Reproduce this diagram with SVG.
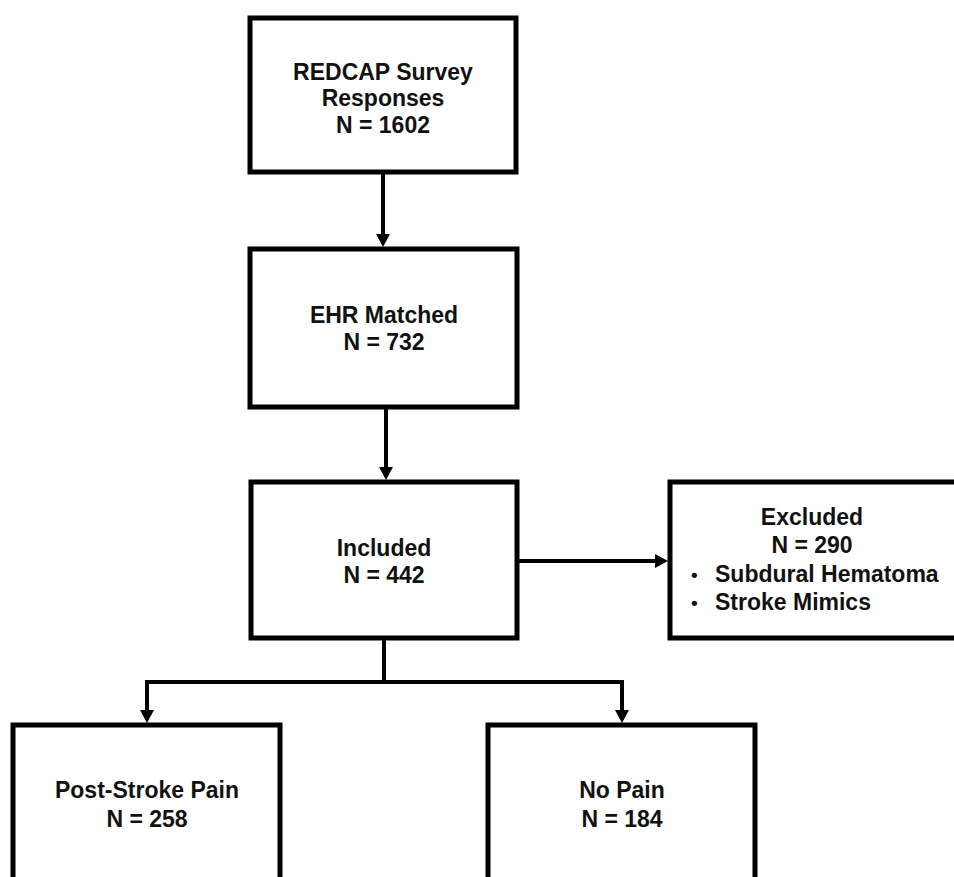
<svg xmlns="http://www.w3.org/2000/svg" width="954" height="877" viewBox="0 0 954 877">
<style>
.box{fill:#fff;stroke:#000;stroke-width:5}
.t{font-family:"Liberation Sans",Arial,sans-serif;font-weight:bold;font-size:23px;fill:#111;text-anchor:middle}
.tl{font-family:"Liberation Sans",Arial,sans-serif;font-weight:bold;font-size:23px;fill:#111}
.b{font-size:19px}
.c{fill:none;stroke:#000;stroke-width:4}
</style>
<defs>
<marker id="ah" markerUnits="userSpaceOnUse" markerWidth="14" markerHeight="14" refX="0" refY="7" orient="auto">
<path d="M0,0 L13,7 L0,14 z" fill="#000"/>
</marker>
</defs>
<rect width="954" height="877" fill="#fff"/>
<g id="connectors">
<line class="c" x1="383" y1="172" x2="383" y2="234" marker-end="url(#ah)"/>
<line class="c" x1="386" y1="407" x2="386" y2="467" marker-end="url(#ah)"/>
<line class="c" x1="517" y1="561" x2="655" y2="561" marker-end="url(#ah)"/>
<polyline class="c" points="384,638 384,682"/>
<polyline class="c" points="145,682 624,682"/>
<line class="c" x1="147" y1="680" x2="147" y2="710" marker-end="url(#ah)"/>
<line class="c" x1="622" y1="680" x2="622" y2="710" marker-end="url(#ah)"/>
</g>
<g id="redcap">
<rect class="box" x="250" y="18" width="266" height="154"/>
<text class="t" x="383" y="80">REDCAP Survey</text>
<text class="t" x="383" y="106">Responses</text>
<text class="t" x="383" y="133">N = 1602</text>
</g>
<g id="ehr">
<rect class="box" x="250" y="249" width="267" height="158"/>
<text class="t" x="384" y="323">EHR Matched</text>
<text class="t" x="384" y="350">N = 732</text>
</g>
<g id="included">
<rect class="box" x="251" y="482" width="266" height="156"/>
<text class="t" x="384" y="556">Included</text>
<text class="t" x="384" y="583">N = 442</text>
</g>
<g id="excluded">
<rect class="box" x="670" y="482" width="292" height="156"/>
<text class="t" x="812" y="525">Excluded</text>
<text class="t" x="812" y="553">N = 290</text>
<text class="tl" y="581"><tspan class="b" x="691">•</tspan><tspan x="715" y="582">Subdural Hematoma</tspan></text>
<text class="tl" y="609"><tspan class="b" x="691">•</tspan><tspan x="715" y="610">Stroke Mimics</tspan></text>
</g>
<g id="pain">
<rect class="box" x="13" y="725" width="267" height="200"/>
<text class="t" x="147" y="798">Post-Stroke Pain</text>
<text class="t" x="147" y="827">N = 258</text>
</g>
<g id="nopain">
<rect class="box" x="488" y="725" width="267" height="200"/>
<text class="t" x="622" y="798">No Pain</text>
<text class="t" x="622" y="827">N = 184</text>
</g>
</svg>
